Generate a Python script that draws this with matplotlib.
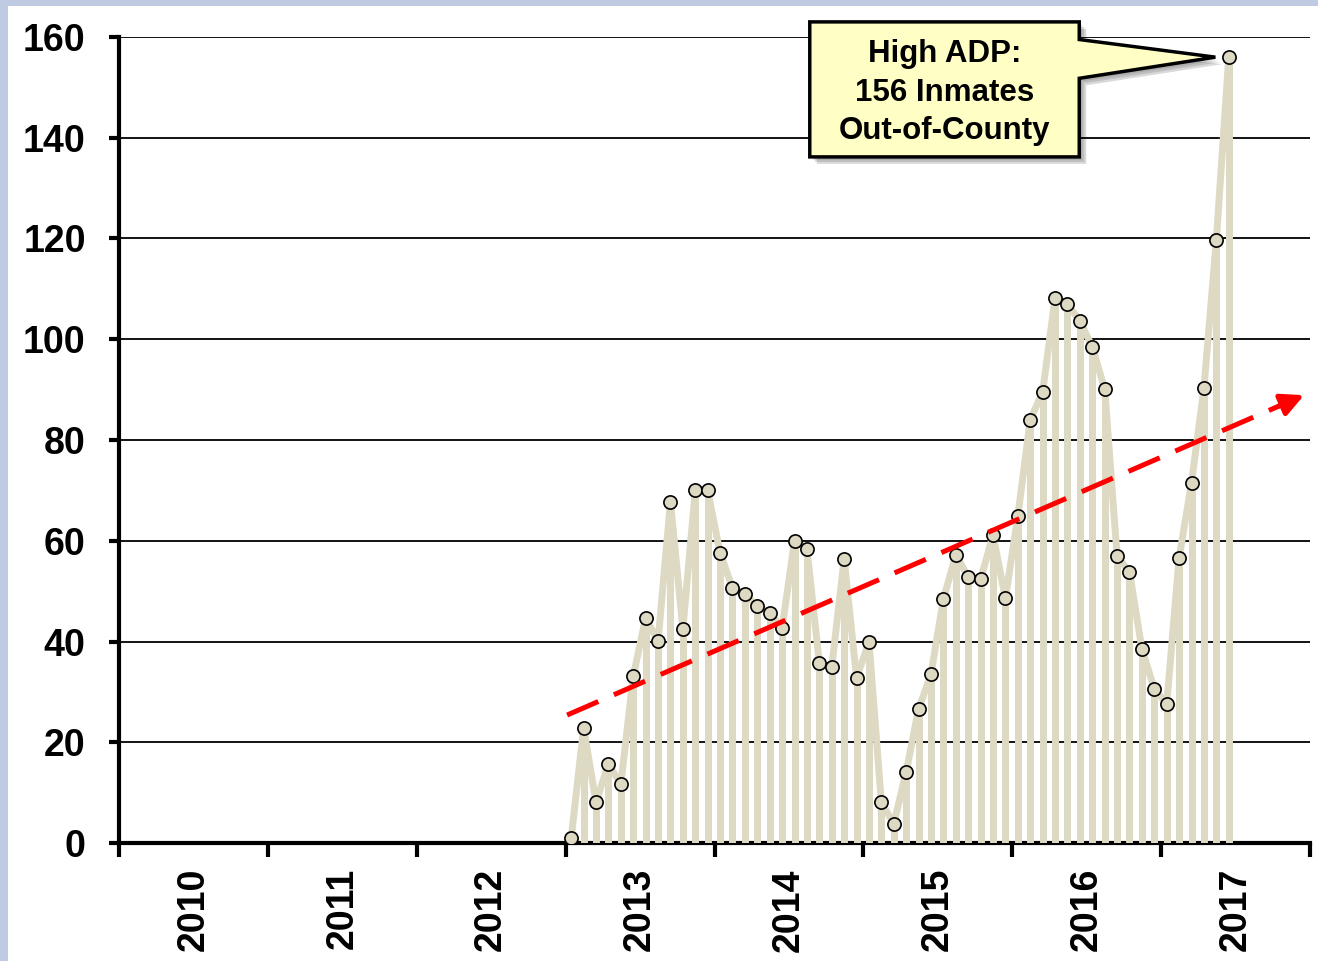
import matplotlib.pyplot as plt
import matplotlib.transforms as mtransforms
from matplotlib.patches import Polygon, Rectangle

plt.rcParams['font.family'] = ['Liberation Sans', 'DejaVu Sans']
plt.rcParams['font.weight'] = 'bold'

# monthly out-of-county ADP, Jan 2013 .. Jun 2017
first_year = 2013
adp = [1, 22.8, 8.1, 15.7, 11.7, 33.1, 44.7, 40.1, 67.7, 42.5, 70, 70,
       57.6, 50.6, 49.4, 47, 45.7, 42.7, 60, 58.4, 35.7, 34.9, 56.4, 32.8,
       39.9, 8.1, 3.8, 14.1, 26.6, 33.5, 48.4, 57.2, 52.8, 52.4, 61.1, 48.6,
       64.9, 84, 89.5, 108.2, 107, 103.6, 98.5, 90.1, 57, 53.8, 38.5, 30.6,
       27.6, 56.6, 71.5, 90.3, 119.7, 156]
years = list(range(2010, 2019))
year_labels = [str(y) for y in range(2010, 2018)]
yticks = list(range(0, 161, 20))
trend_start = (2013.01, 25.4)
trend_end = (2017.96, 88.9)
note = "High ADP:\n156 Inmates\nOut-of-County"

x = [first_year + (i + 0.45) / 12 for i in range(len(adp))]

tan = '#DDD9C3'

fig = plt.figure(figsize=(13.18, 9.61), dpi=100)
fig.patch.set_facecolor('#BFCBE3')
fig.add_artist(Rectangle((8 / 1318, 0), 1, 1 - 6 / 961, transform=fig.transFigure,
                         facecolor='white', edgecolor='none', zorder=0))

ax = fig.add_axes([119 / 1318, 1 - 843 / 961, (1310 - 119) / 1318, (843 - 37) / 961])
ax.set_facecolor('none')
ax.set_xlim(2010, 2018)
ax.set_ylim(0, 160)

for v in yticks[1:]:
    ax.axhline(v, color='black', lw=1.3, zorder=1)

ax.vlines(x, 0, adp, colors=tan, lw=5, zorder=2)
ax.plot(x, adp, color=tan, lw=5, zorder=3, solid_joinstyle='round')
ax.plot(x, adp, ls='none', marker='o', ms=9.5, mfc=tan, mec='black', mew=1.2, zorder=4)

# trend arrow
tx = [trend_start[0], trend_end[0] - 0.12]
ty = [trend_start[1], trend_end[1] - 0.12 * (trend_end[1] - trend_start[1]) / (trend_end[0] - trend_start[0])]
ax.plot(tx, ty, color='red', lw=3.6, dashes=(6.8, 3.4), zorder=5)
ax.annotate('', xy=trend_end, xytext=(tx[1] - 0.05, ty[1] - 0.05 * (ty[1] - ty[0]) / (tx[1] - tx[0])),
            arrowprops=dict(arrowstyle='-|>', color='red', lw=3.6, mutation_scale=34,
                            shrinkA=0, shrinkB=0), zorder=5)

# callout box
bx0, bx1 = 2014.64, 2016.45
by0, by1 = 136.2, 163.0
tip = (x[-1] - 0.09, adp[-1])
verts = [(bx0, by1), (bx1, by1), (bx1, 159.5), tip, (bx1, 151.8), (bx1, by0), (bx0, by0)]
for k, a in enumerate([0.10, 0.12, 0.15]):
    off = mtransforms.offset_copy(ax.transData, fig=fig, x=3 + 2 * k, y=-(3 + 2 * k), units='dots')
    ax.add_patch(Polygon(verts, closed=True, facecolor='black', edgecolor='none', alpha=a,
                         transform=off, clip_on=False, zorder=6))
ax.add_patch(Polygon(verts, closed=True, facecolor='#FFFFC5', edgecolor='black', lw=2.5,
                     joinstyle='miter', clip_on=False, zorder=7))
ax.text((bx0 + bx1) / 2, (by0 + by1) / 2 - 0.7, note, ha='center', va='center', fontsize=22.5,
        fontweight='bold', linespacing=1.37, zorder=8)

for s in ['top', 'right']:
    ax.spines[s].set_visible(False)
ax.spines['left'].set_linewidth(3)
ax.spines['bottom'].set_linewidth(3)
ax.spines['bottom'].set_zorder(1.5)

ax.set_yticks(yticks)
ax.tick_params(axis='y', length=7, width=3, pad=17, labelsize=27)
ax.set_xticks(years)
ax.set_xticklabels([])
ax.tick_params(axis='x', which='major', length=10, width=3)
ax.set_xticks([y + 0.5 for y in years[:-1]], minor=True)
ax.set_xticklabels(year_labels, minor=True, rotation=90, fontsize=27, fontweight='bold')
ax.tick_params(axis='x', which='minor', length=0, pad=18)

fig.savefig('out.png', dpi=100)
